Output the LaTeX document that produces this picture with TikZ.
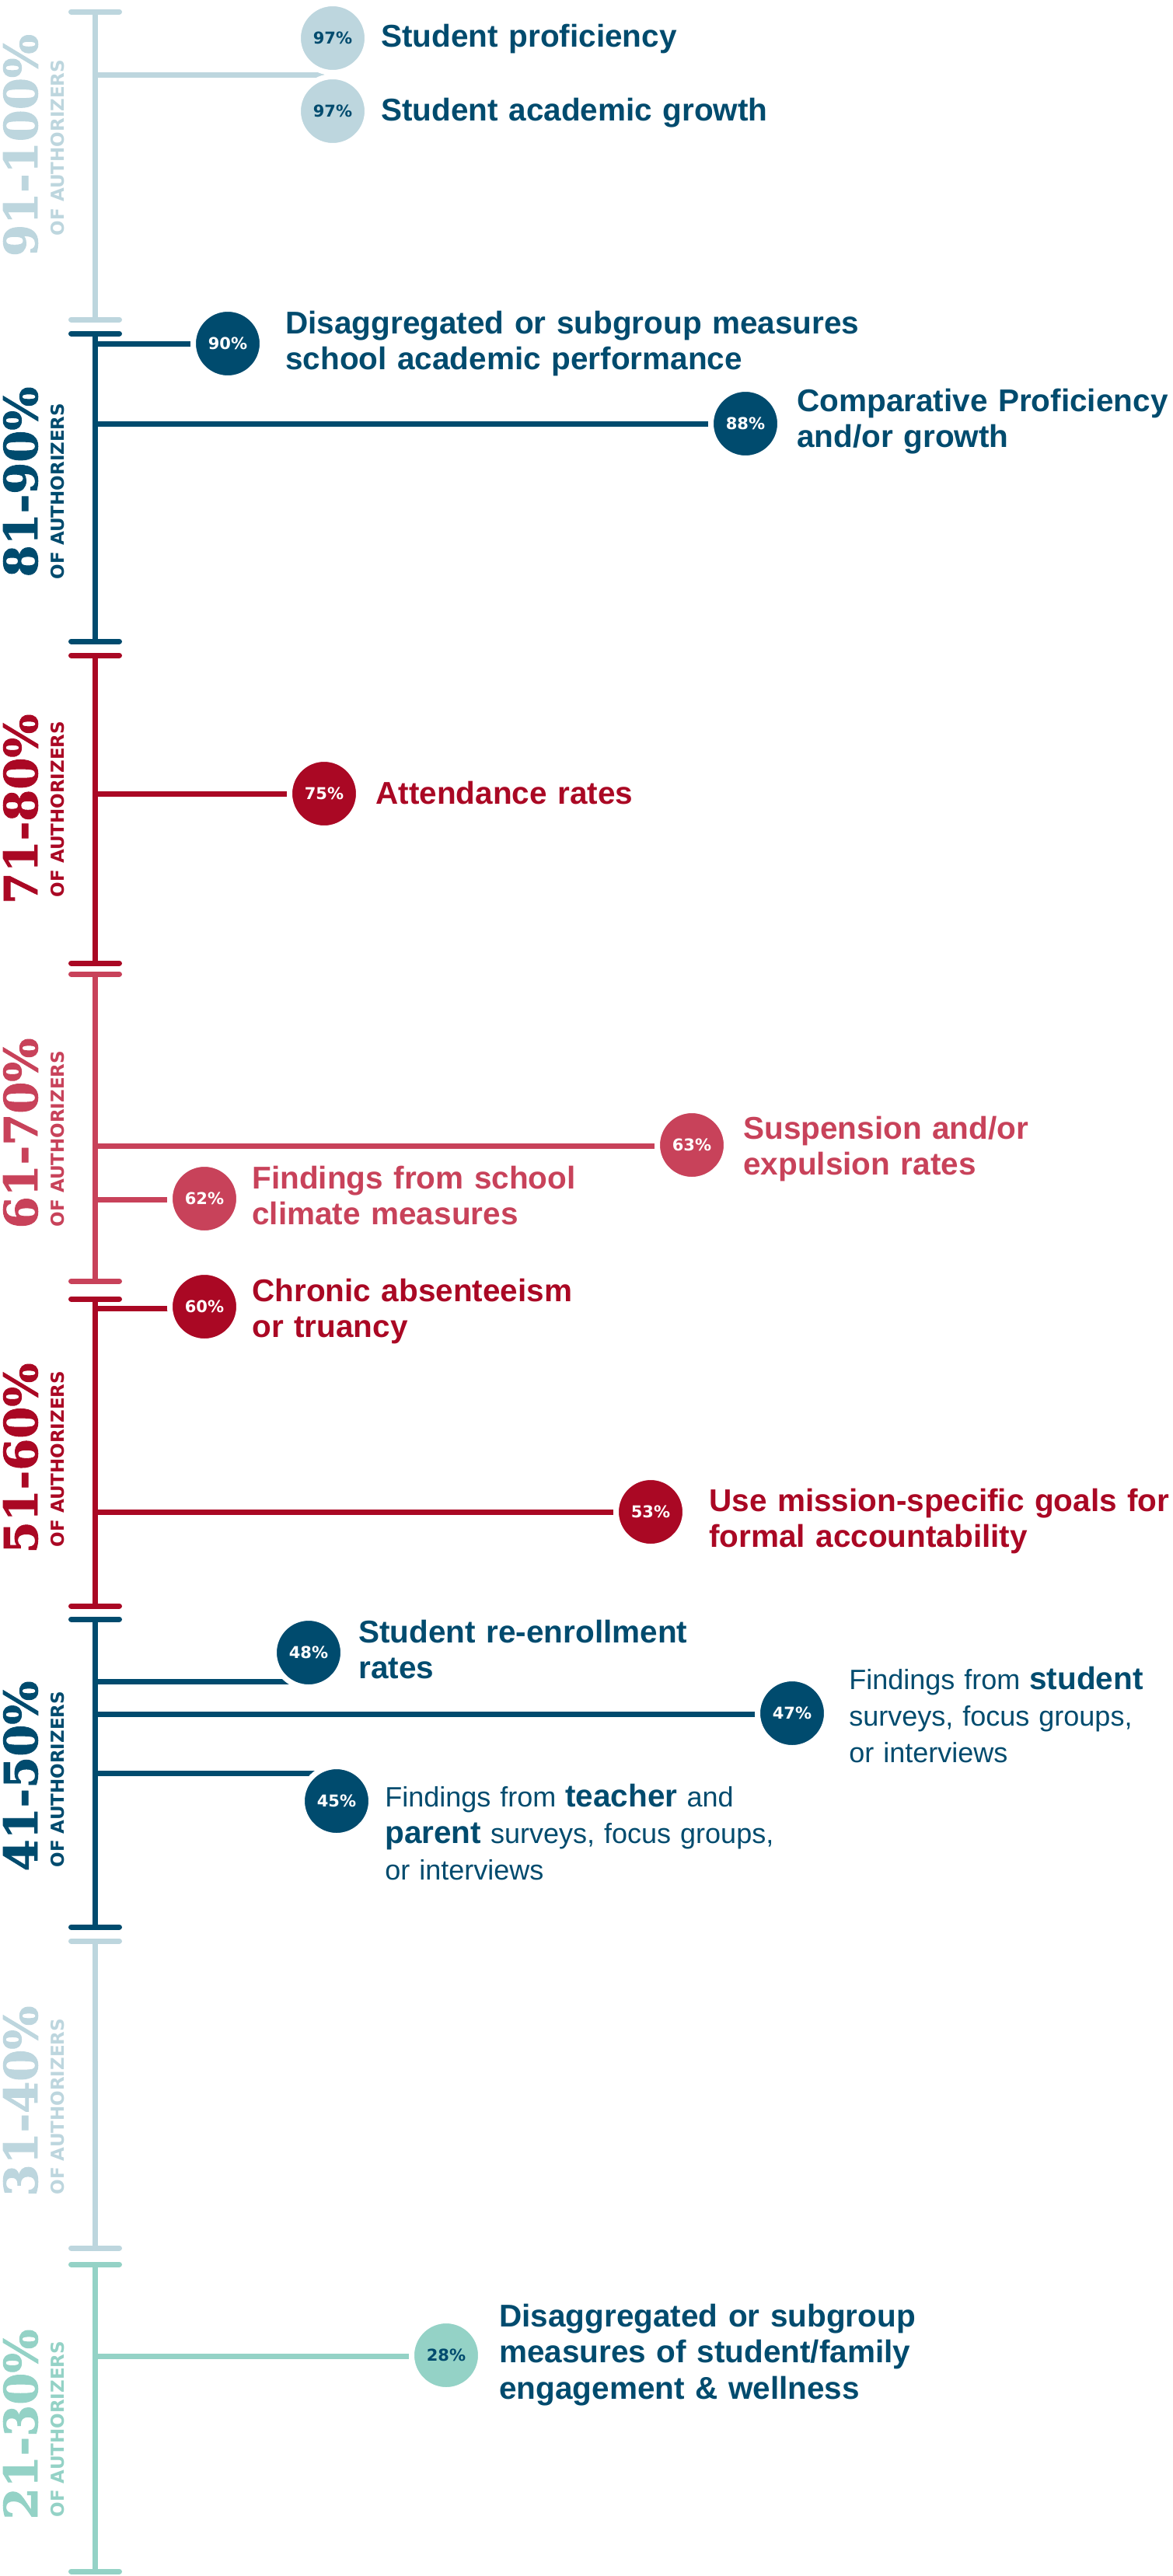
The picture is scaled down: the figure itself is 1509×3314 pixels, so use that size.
\documentclass[tikz,border=0pt]{standalone}
\usepackage{fontspec}
\setmainfont{Liberation Sans}
\newfontfamily\serifbig{DejaVu Serif}[BoldFont={DejaVu Serif Bold}, BoldFeatures={FakeBold=1.6}]
\newfontfamily\widesans{DejaVu Sans}[BoldFont={DejaVu Sans Bold}]
\pgfdeclarelayer{bg}
\pgfsetlayers{bg,main}
\definecolor{lb}{RGB}{189,214,222}
\definecolor{db}{RGB}{0,75,110}
\definecolor{rd}{RGB}{170,8,36}
\definecolor{pk}{RGB}{200,66,90}
\definecolor{tl}{RGB}{148,210,198}
\newcommand\bigbold[1]{{\fontsize{20.25}{23.6}\selectfont\bfseries #1}}
\tikzset{
  pct/.style={circle, fill=#1, draw=white, line width=3.5pt, minimum size=44.5pt,
    inner sep=0pt, text=white, font=\widesans\bfseries\fontsize{10.5}{12}\selectfont},
  lbl/.style={anchor=base west, inner sep=0pt, text width=420pt, align=left, text=#1,
    font=\fontsize{20.25}{23.4}\selectfont\bfseries},
  lblr/.style={anchor=base west, inner sep=0pt, text width=420pt, align=left, text=#1,
    font=\fontsize{18}{23.6}\selectfont},
  brline/.style={draw=#1, line width=3.5pt},
  axisline/.style={draw=#1, line width=3.5pt},
  segtick/.style={draw=#1, line width=3.5pt, line cap=round},
  bignum/.style={rotate=90, anchor=base, inner sep=0pt, text=#1,
    font=\serifbig\bfseries\fontsize{29.5}{30}\selectfont},
  ofauth/.style={rotate=90, anchor=base, inner sep=0pt, text=#1,
    font=\widesans\bfseries\fontsize{11.5}{12}\selectfont},
}
\begin{document}
\begin{tikzpicture}[x=0.5pt,y=-0.5pt]
\useasboundingbox (0,0) rectangle (1509,3314);
\begin{pgfonlayer}{bg}
\fill[white] (0,0) rectangle (1509,3314);
\end{pgfonlayer}

% axis segments with end ticks
\foreach \t/\b/\c in {15/411/lb, 429/825/db, 843/1239/rd, 1253/1648/pk,
                       1671/2066/rd, 2083/2479/db, 2497/2892/lb, 2913/3308/tl}{
  \draw[axisline=\c] (122,\t) -- (122,\b);
  \draw[segtick=\c] (91.5,\t) -- (153.5,\t);
  \draw[segtick=\c] (91.5,\b) -- (153.5,\b);
}

% range labels
\node[bignum=lb] (r1) at (48,187) {91-100\%};
\node[ofauth=lb] (o1) at (82,190) {OF AUTHORIZERS};
\node[bignum=db] (r2) at (48,620) {81-90\%};
\node[ofauth=db] (o2) at (82,632) {OF AUTHORIZERS};
\node[bignum=rd] (r3) at (48,1041) {71-80\%};
\node[ofauth=rd] (o3) at (82,1041) {OF AUTHORIZERS};
\node[bignum=pk] (r4) at (48,1458) {61-70\%};
\node[ofauth=pk] (o4) at (82,1465) {OF AUTHORIZERS};
\node[bignum=rd] (r5) at (48,1876) {51-60\%};
\node[ofauth=rd] (o5) at (82,1877) {OF AUTHORIZERS};
\node[bignum=db] (r6) at (48,2285) {41-50\%};
\node[ofauth=db] (o6) at (82,2289) {OF AUTHORIZERS};
\node[bignum=lb] (r7) at (48,2703) {31-40\%};
\node[ofauth=lb] (o7) at (82,2710) {OF AUTHORIZERS};
\node[bignum=tl] (r8) at (48,3119) {21-30\%};
\node[ofauth=tl] (o8) at (82,3125) {OF AUTHORIZERS};

% circles
\node[pct=lb, text=db] (p97a) at (428,49) {97\%};
\node[pct=lb, text=db] (p97b) at (428,143) {97\%};
\node[pct=db] (p90) at (293,442) {90\%};
\node[pct=db] (p88) at (959,545) {88\%};
\node[pct=rd] (p75) at (417,1021) {75\%};
\node[pct=pk] (p63) at (890,1473) {63\%};
\node[pct=pk] (p62) at (263,1542) {62\%};
\node[pct=rd] (p60) at (263,1681) {60\%};
\node[pct=rd] (p53) at (837,1945) {53\%};
\node[pct=db] (p48) at (397,2126) {48\%};
\node[pct=db] (p47) at (1019,2204) {47\%};
\node[pct=db] (p45) at (433,2317) {45\%};
\node[pct=tl, text=db] (p28) at (574,3030) {28\%};

% branch start points on the axis
\coordinate (b97) at (122,96);
\coordinate (b90) at (122,442);
\coordinate (b88) at (122,545);
\coordinate (b75) at (122,1021);
\coordinate (b63) at (122,1474);
\coordinate (b62) at (122,1543);
\coordinate (b60) at (122,1683);
\coordinate (b53) at (122,1945);
\coordinate (b48) at (122,2163);
\coordinate (b47) at (122,2205);
\coordinate (b45) at (122,2281);
\coordinate (b28) at (122,3031);

\begin{pgfonlayer}{bg}
\draw[brline=lb] (b97) -- (p97a.center |- b97);
\draw[brline=db] (b90) -- (p90.center |- b90);
\draw[brline=db] (b88) -- (p88.center |- b88);
\draw[brline=rd] (b75) -- (p75.center |- b75);
\draw[brline=pk] (b63) -- (p63.center |- b63);
\draw[brline=pk] (b62) -- (p62.center |- b62);
\draw[brline=rd] (b60) -- (p60.center |- b60);
\draw[brline=rd] (b53) -- (p53.center |- b53);
\draw[brline=db] (b48) -- (p48.center |- b48);
\draw[brline=db] (b47) -- (p47.center |- b47);
\draw[brline=db] (b45) -- (p45.center |- b45);
\draw[brline=tl] (b28) -- (p28.center |- b28);
\end{pgfonlayer}

% item labels
\node[lbl=db] (t97a) at (490,60) {Student proficiency};
\node[lbl=db] (t97b) at (490,155) {Student academic growth};
\node[lbl=db] (t90) at (367,429) {Disaggregated or subgroup measures\\school academic performance};
\node[lbl=db] (t88) at (1025,529) {Comparative Proficiency\\and/or growth};
\node[lbl=rd] (t75) at (483,1034) {Attendance rates};
\node[lbl=pk] (t63) at (956,1465) {Suspension and/or\\expulsion rates};
\node[lbl=pk] (t62) at (324,1529) {Findings from school\\climate measures};
\node[lbl=rd] (t60) at (324,1674) {Chronic absenteeism\\or truancy};
\node[lbl=rd] (t53) at (912,1944) {Use mission-specific goals for\\formal accountability};
\node[lbl=db] (t48) at (461,2113) {Student re-enrollment\\rates};
\node[lblr=db] (t47) at (1092,2173) {Findings from \bigbold{student}\\surveys, focus groups,\\or interviews};
\node[lblr=db] (t45) at (495,2324) {Findings from \bigbold{teacher} and\\\bigbold{parent} surveys, focus groups,\\or interviews};
\node[lbl=db] (t28) at (642,2993) {Disaggregated or subgroup\\measures of student/family\\engagement \& wellness};
\end{tikzpicture}
\end{document}
